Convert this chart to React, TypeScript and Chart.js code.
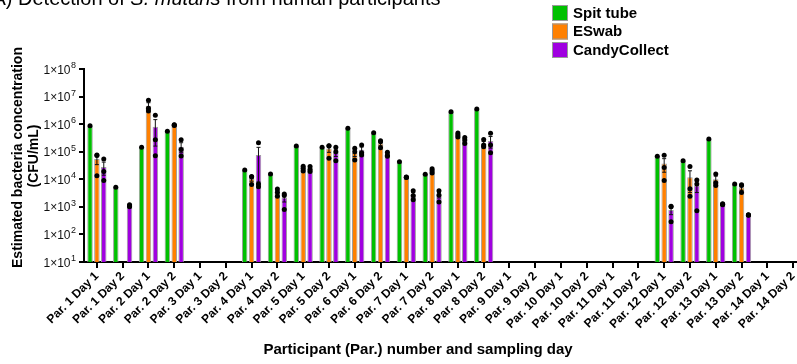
import { useEffect, useRef } from 'react';
import { Chart, registerables } from 'chart.js';

Chart.register(...registerables);

const FONT = '"Liberation Sans", Arial, Helvetica, sans-serif';

const categories = [
  'Par. 1 Day 1', 'Par. 1 Day 2', 'Par. 2 Day 1', 'Par. 2 Day 2', 'Par. 3 Day 1', 'Par. 3 Day 2',
  'Par. 4 Day 1', 'Par. 4 Day 2', 'Par. 5 Day 1', 'Par. 5 Day 2', 'Par. 6 Day 1', 'Par. 6 Day 2',
  'Par. 7 Day 1', 'Par. 7 Day 2', 'Par. 8 Day 1', 'Par. 8 Day 2', 'Par. 9 Day 1', 'Par. 9 Day 2',
  'Par. 10 Day 1', 'Par. 10 Day 2', 'Par. 11 Day 1', 'Par. 11 Day 2', 'Par. 12 Day 1', 'Par. 12 Day 2',
  'Par. 13 Day 1', 'Par. 13 Day 2', 'Par. 14 Day 1', 'Par. 14 Day 2',
];

const seriesNames = ['Spit tube', 'ESwab', 'CandyCollect'];
const seriesColors = ['#00C000', '#FF8000', '#A000E0'];

const yTickValues = [1e1, 1e2, 1e3, 1e4, 1e5, 1e6, 1e7, 1e8];
const yTickBase = '1×10';
const yTickExponents = ['1', '2', '3', '4', '5', '6', '7', '8'];

const titleParts = ['A) Detection of ', 'S. mutans', ' from human participants'];
const yTitleLines = ['Estimated bacteria concentration', '(CFU/mL)'];
const xTitle = 'Participant (Par.) number and sampling day';

// Spit tube
const spitTube = [
  8.7e5, 5.1e3, 1.45e5, 5.5e5, null, null,
  2.17e4, 1.56e4, 1.61e5, 1.45e5, 7.06e5, 4.9e5,
  4.35e4, 1.52e4, 2.83e6, 3.54e6, null, null,
  null, null, null, null, 6.8e4, 4.72e4,
  2.89e5, 6.7e3, null, null,
];
const spitTubeErr = [
  0, 0, 0, 0, 0, 0,
  0, 0, 0, 0, 0, 0,
  0, 0, 0, 0, 0, 0,
  0, 0, 0, 0, 0, 0,
  0, 0, 0, 0,
];
const spitTubeDots = [
  [8.7e5], [5.1e3], [1.45e5], [5.5e5], [], [],
  [2.17e4], [1.56e4], [1.61e5], [1.45e5], [7.06e5], [4.9e5],
  [4.35e4], [1.52e4], [2.83e6], [3.54e6], [], [],
  [], [], [], [], [6.8e4], [4.72e4],
  [2.89e5], [6.7e3], [], [],
];

// ESwab
const eSwab = [
  5.4e4, null, 4.67e6, 9.3e5, null, null,
  1.05e4, 3.3e3, 2.5e4, 1.3e5, 9.2e4, 2.0e5,
  1.18e4, 2.05e4, 4.1e5, 1.95e5, null, null,
  null, null, null, null, 3.7e4, 1.18e4,
  1.0e4, 5.0e3, null, null,
];
const eSwabErr = [
  2.0e4, 0, 1.3e6, 2e4, 0, 0,
  2e3, 6e2, 3e3, 3.5e4, 2.5e4, 3.5e4,
  5e2, 2e3, 4e4, 4e4, 0, 0,
  0, 0, 0, 0, 1.9e4, 8.5e3,
  3e3, 1e3, 0, 0,
];
const eSwabDots = [
  [7.6e4, 7.3e4, 1.35e4], [], [7.3e6, 3.8e6, 3.0e6], [9.6e5, 9.3e5, 9.0e5], [], [],
  [1.25e4, 1.2e4, 6.5e3], [4.4e3, 3.4e3, 2.4e3], [3.0e4, 2.5e4, 2.0e4], [1.65e5, 1.6e5, 5.8e4], [1.33e5, 1.0e5, 5.0e4], [2.5e5, 2.3e5, 1.4e5],
  [1.2e4, 1.18e4, 1.15e4], [2.4e4, 2.1e4, 1.7e4], [4.8e5, 4.1e5, 3.4e5], [2.8e5, 1.75e5, 1.5e5], [], [],
  [], [], [], [], [7.4e4, 2.7e4, 9e3], [2.9e4, 4.5e3, 2.4e3],
  [1.56e4, 7.5e3, 6.0e3], [6.3e3, 6.0e3, 3.3e3], [], [],
];

// CandyCollect
const candyCollect = [
  2.8e4, 1.1e3, 8.1e5, 1.52e5, null, null,
  7.6e4, 2.2e3, 2.3e4, 9.5e4, 1.18e5, 7.8e4,
  2.7e3, 2.7e3, 2.66e5, 2.45e5, null, null,
  null, null, null, null, 7.7e2, 6.0e3,
  1.25e3, 5.1e2, null, null,
];
const candyCollectErr = [
  1.4e4, 1e2, 6.5e5, 6e4, 0, 0,
  6.8e4, 7e2, 3e3, 2.8e4, 3e4, 8e3,
  6e2, 6e2, 4e4, 1.1e5, 0, 0,
  0, 0, 0, 0, 2.5e2, 2.7e3,
  5e1, 2e1, 0, 0,
];
const candyCollectDots = [
  [5.4e4, 1.9e4, 9e3], [1.2e3, 1.1e3, 1.0e3], [2.1e6, 2.7e5, 7.2e4], [2.7e5, 1.2e5, 7e4], [], [],
  [2.1e5, 6.7e3, 5.4e3], [2.9e3, 2.6e3, 8e2], [2.9e4, 2.3e4, 1.9e4], [1.45e5, 1.0e5, 4.7e4], [1.75e5, 9.2e4, 7.6e4], [9.5e4, 7.5e4, 6.8e4],
  [3.8e3, 2.6e3, 1.8e3], [3.8e3, 2.7e3, 1.5e3], [3.3e5, 2.7e5, 2.0e5], [4.7e5, 1.75e5, 9.2e4], [], [],
  [], [], [], [], [1.05e3, 1.0e3, 2.9e2], [9.4e3, 6.7e3, 7.3e2],
  [1.3e3, 1.25e3, 1.2e3], [5.2e2, 5.1e2, 5.0e2], [], [],
];

const seriesValues = [spitTube, eSwab, candyCollect];
const seriesErrors = [spitTubeErr, eSwabErr, candyCollectErr];
const seriesDots = [spitTubeDots, eSwabDots, candyCollectDots];

const errorDotsPlugin = {
  id: 'errorDots',
  afterDatasetsDraw(chart: any) {
    const ctx = chart.ctx;
    const ys = chart.scales.y;
    ctx.save();
    chart.data.datasets.forEach((ds: any, d: number) => {
      const meta = chart.getDatasetMeta(d);
      meta.data.forEach((bar: any, i: number) => {
        const m = ds.data[i];
        if (m == null) return;
        const x = bar.x;
        const e = seriesErrors[d][i];
        if (e) {
          const yt = ys.getPixelForValue(m + e);
          const yb = ys.getPixelForValue(Math.max(m - e, ys.min));
          ctx.strokeStyle = '#111';
          ctx.lineWidth = 1;
          ctx.beginPath();
          ctx.moveTo(x, yt);
          ctx.lineTo(x, yb);
          ctx.moveTo(x - 2, yt);
          ctx.lineTo(x + 2, yt);
          ctx.moveTo(x - 2, yb);
          ctx.lineTo(x + 2, yb);
          ctx.stroke();
        }
        ctx.fillStyle = '#000';
        seriesDots[d][i].forEach((v: number) => {
          const yy = ys.getPixelForValue(v);
          ctx.beginPath();
          ctx.arc(x, yy, 2.5, 0, Math.PI * 2);
          ctx.fill();
        });
      });
    });
    ctx.restore();
  },
};

const textPlugin = {
  id: 'texts',
  afterDraw(chart: any) {
    const ctx = chart.ctx;
    const ys = chart.scales.y;
    ctx.save();
    ctx.fillStyle = '#000';
    // Title (cut off at top in reference)
    ctx.textBaseline = 'alphabetic';
    ctx.textAlign = 'left';
    let tx = -7.5;
    titleParts.forEach((p, i) => {
      ctx.font = (i === 1 ? 'italic ' : '') + '20px ' + FONT;
      ctx.fillText(p, tx, 5);
      tx += ctx.measureText(p).width;
    });
    // Y tick labels with superscript exponents
    const right = ys.left + ys.width - 5 - 3;
    yTickValues.forEach((v, i) => {
      const py = ys.getPixelForValue(v);
      ctx.font = '9px ' + FONT;
      const ew = ctx.measureText(yTickExponents[i]).width;
      ctx.textAlign = 'right';
      ctx.textBaseline = 'alphabetic';
      ctx.fillStyle = '#111';
      ctx.fillText(yTickExponents[i], right, py - 1);
      ctx.font = '12px ' + FONT;
      ctx.fillText(yTickBase, right - ew - 0.5, py + 4.5);
    });
    // Legend
    seriesNames.forEach((name, i) => {
      const top = 5 + 18.5 * i;
      ctx.fillStyle = seriesColors[i];
      ctx.fillRect(552, top, 16, 16);
      ctx.strokeStyle = '#9a9a9a';
      ctx.lineWidth = 1;
      ctx.strokeRect(552.5, top + 0.5, 15, 15);
      ctx.fillStyle = '#000';
      ctx.font = 'bold 15px ' + FONT;
      ctx.textAlign = 'left';
      ctx.textBaseline = 'middle';
      ctx.fillText(name, 573, top + 8.5);
    });
    // Y title
    ctx.font = 'bold 14px ' + FONT;
    ctx.textAlign = 'center';
    ctx.textBaseline = 'middle';
    ctx.save();
    ctx.translate(18.5, 157.5);
    ctx.rotate(-Math.PI / 2);
    ctx.fillText(yTitleLines[0], 0, 0);
    ctx.restore();
    ctx.save();
    ctx.translate(34.5, 156);
    ctx.rotate(-Math.PI / 2);
    ctx.fillText(yTitleLines[1], 0, 0);
    ctx.restore();
    // X title
    ctx.font = 'bold 15px ' + FONT;
    ctx.textBaseline = 'alphabetic';
    ctx.fillText(xTitle, 418, 354);
    ctx.restore();
  },
};

export default function App() {
  const ref = useRef<HTMLCanvasElement | null>(null);
  useEffect(() => {
    if (!ref.current) return;
    Chart.defaults.font.family = FONT;
    const chart = new Chart(ref.current, {
      type: 'bar',
      data: {
        labels: categories,
        datasets: seriesNames.map((name, d) => ({
          label: name,
          data: seriesValues[d] as any,
          backgroundColor: seriesColors[d],
          borderColor: '#a0a0a0',
          borderWidth: 1,
          categoryPercentage: 0.8,
          barPercentage: 0.8,
        })),
      },
      options: {
        responsive: false,
        animation: false,
        devicePixelRatio: 1,
        layout: { padding: { left: 0, right: 6, top: 69, bottom: 0 } },
        plugins: {
          legend: { display: false },
          title: { display: false },
          tooltip: { enabled: false },
        },
        scales: {
          x: {
            type: 'category',
            offset: true,
            grid: { offset: false, drawOnChartArea: false, drawTicks: true, tickLength: 6, color: '#000', lineWidth: 2 },
            border: { color: '#000', width: 2 },
            ticks: {
              autoSkip: false,
              maxRotation: 45,
              minRotation: 45,
              color: '#000',
              padding: 1,
              font: { size: 12, weight: 'bold', family: FONT },
            },
            afterFit: (s: any) => { s.height = 102; },
          },
          y: {
            type: 'logarithmic',
            min: 10,
            max: 1e8,
            grid: { drawOnChartArea: false, drawTicks: true, tickLength: 5, color: '#000', lineWidth: 2 },
            border: { color: '#000', width: 2 },
            ticks: {
              color: 'rgba(0,0,0,0)',
              padding: 3,
              font: { size: 12, family: FONT },
              callback: (v: any) => {
                const i = yTickValues.indexOf(Number(v));
                return i >= 0 ? yTickBase + yTickExponents[i] : '';
              },
            },
            afterBuildTicks: (s: any) => { s.ticks = yTickValues.map((v) => ({ value: v })); },
            afterFit: (s: any) => { s.width = 84; },
          },
        },
      } as any,
      plugins: [errorDotsPlugin, textPlugin],
    });
    return () => chart.destroy();
  }, []);
  return (
    <div style={{ position: 'fixed', left: 0, top: 0, width: 797, height: 364, overflow: 'hidden', background: '#fff' }}>
      <canvas ref={ref} width={812} height={364} style={{ position: 'absolute', left: 0, top: 0, width: 812, height: 364 }} />
    </div>
  );
}
